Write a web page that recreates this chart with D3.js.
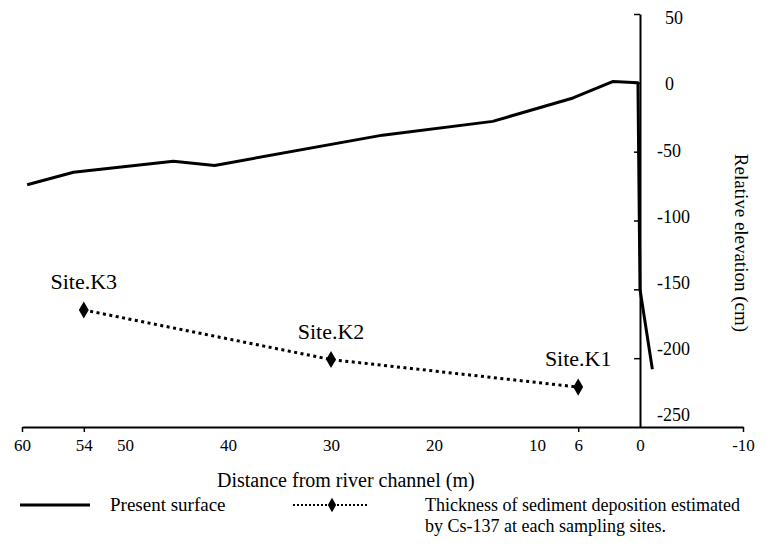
<!DOCTYPE html>
<html>
<head>
<meta charset="utf-8">
<script src="https://cdn.jsdelivr.net/npm/d3@7"></script>
<style>
  body { margin: 0; background: #fff; }
  svg { display: block; font-family: "Liberation Serif", "DejaVu Serif", serif; }
  text { fill: #000; }
</style>
</head>
<body>
<svg width="768" height="549"></svg>
<script>
// Present surface profile (distance from channel in m, relative elevation in cm)
var surfaceDist = [59.5, 55, 45.3, 41.3, 25, 14.3, 6.5, 2.6, 0.2, 0, -1.2];
var surfaceElev = [-74, -65, -57, -60, -38, -28, -11, 1, 0, -150, -208];

// Thickness of sediment deposition from Cs-137 at the sampling sites
var siteNames = ["Site.K3", "Site.K2", "Site.K1"];
var siteDist = [54, 30, 6];
var siteElev = [-165, -201, -221];

// tick labels
var xLabels = [60, 54, 50, 40, 30, 20, 10, 6, 0, -10];
var xMarks = [60, 54, 6, -10];
var yTicks = [50, 0, -50, -100, -150, -200, -250];
var yMarks = [50, 0, -50, -100, -150, -200];

svg = d3.select("svg");

xScale = d3.scaleLinear() // distance runs right to left
  .domain([60, -10])
  .range([22, 743]);

yScale = d3.scaleLinear()
  .domain([-250, 50])
  .range([427, 14]);

// the printed tick labels sit a little tighter than the ticks
yLabelScale = d3.scaleLinear()
  .domain([-250, 50])
  .range([415, 18]);

function plain(d) { return String(d); } // keep a hyphen minus, as printed

// bottom axis: labels everywhere, tick marks only on some
gx = svg.append("g")
  .attr("transform", "translate(0," + yScale(-250) + ")")
  .call(d3.axisBottom(xScale)
    .tickValues(xLabels)
    .tickSizeInner(5)
    .tickSizeOuter(0)
    .tickPadding(7)
    .tickFormat(plain));
gx.select(".domain").attr("stroke-width", 2);
gx.selectAll(".tick line")
  .attr("stroke-width", 1.5)
  .attr("y2", function(d) { return xMarks.includes(d) ? 5 : 0; });
gx.selectAll(".tick text")
  .attr("font-size", 17)
  .attr("font-family", "Liberation Serif");

// vertical axis sits at distance 0, labels on its right
gy = svg.append("g")
  .attr("transform", "translate(" + xScale(0) + ",0)")
  .call(d3.axisRight(yScale)
    .tickValues(yTicks)
    .tickSizeInner(-6)
    .tickSizeOuter(0)
    .tickPadding(17)
    .tickFormat(plain));
gy.select(".domain").attr("stroke-width", 2);
gy.selectAll(".tick line")
  .attr("stroke-width", 1.5)
  .attr("x2", function(d) { return yMarks.includes(d) ? -6 : 0; });
gy.selectAll(".tick text")
  .attr("font-size", 18)
  .attr("font-family", "Liberation Serif")
  .attr("x", function(d) { return d < 0 ? 17 : 25; }) // let the minus sign hang
  .attr("y", function(d) { return yLabelScale(d) - yScale(d); });

// axis titles
svg.append("text")
  .attr("x", 217)
  .attr("y", 487)
  .attr("font-size", 20)
  .text("Distance from river channel (m)");

svg.append("text")
  .attr("transform", "translate(735,243) rotate(90)")
  .attr("text-anchor", "middle")
  .attr("font-size", 19)
  .text("Relative elevation (cm)");

// present surface
surface = surfaceDist.map(function(d, i) { return [d, surfaceElev[i]]; });
line = d3.line()
  .x(function(d) { return xScale(d[0]); })
  .y(function(d) { return yScale(d[1]); });

svg.append("path")
  .attr("d", line(surface))
  .attr("fill", "none")
  .attr("stroke", "#000")
  .attr("stroke-width", 3)
  .attr("stroke-linejoin", "round");

// sediment thickness, dotted with diamonds
sites = siteDist.map(function(d, i) { return [d, siteElev[i], siteNames[i]]; });
svg.append("path")
  .attr("d", line(sites))
  .attr("fill", "none")
  .attr("stroke", "#000")
  .attr("stroke-width", 3)
  .attr("stroke-dasharray", "3,3.5");

diamond = d3.symbol().type(d3.symbolDiamond).size(85);
svg.selectAll(".site")
  .data(sites)
  .enter()
  .append("path")
  .attr("class", "site")
  .attr("transform", function(d) { return "translate(" + xScale(d[0]) + "," + yScale(d[1]) + ")"; })
  .attr("d", diamond)
  .attr("fill", "#000");

svg.selectAll(".sitelabel")
  .data(sites)
  .enter()
  .append("text")
  .attr("class", "sitelabel")
  .attr("x", function(d) { return xScale(d[0]); })
  .attr("y", function(d) { return yScale(d[1]) - 21; })
  .attr("text-anchor", "middle")
  .attr("font-size", 22)
  .text(function(d) { return d[2]; });

// legend
legend = svg.append("g").attr("transform", "translate(0,505)");
legend.append("line")
  .attr("x1", 20).attr("x2", 90)
  .attr("stroke", "#000").attr("stroke-width", 3);
legend.append("text")
  .attr("x", 110).attr("y", 6)
  .attr("font-size", 19)
  .text("Present surface");

legend.append("line")
  .attr("x1", 293).attr("x2", 367)
  .attr("stroke", "#000").attr("stroke-width", 2)
  .attr("stroke-dasharray", "2,2");
legend.append("path")
  .attr("transform", "translate(332,0)")
  .attr("d", d3.symbol().type(d3.symbolDiamond).size(60))
  .attr("fill", "#000");
legend.append("text")
  .attr("x", 425).attr("y", 6)
  .attr("font-size", 18)
  .text("Thickness of sediment deposition estimated");
legend.append("text")
  .attr("x", 425).attr("y", 27)
  .attr("font-size", 18)
  .text("by Cs-137 at each sampling sites.");
</script>
</body>
</html>
